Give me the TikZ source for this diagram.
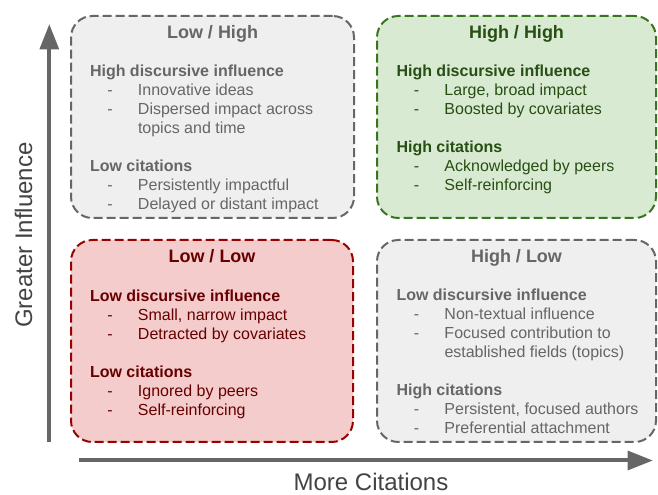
\documentclass[tikz,border=0pt]{standalone}
\usepackage{fontspec}
\setmainfont{Liberation Sans}
\usetikzlibrary{arrows.meta,calc}

\definecolor{grayfill}{HTML}{EFEFEF}
\definecolor{grayline}{HTML}{666666}
\definecolor{graytext}{HTML}{666666}
\definecolor{greenfill}{HTML}{D9EAD3}
\definecolor{greenline}{HTML}{38761D}
\definecolor{greentext}{HTML}{274E13}
\definecolor{redfill}{HTML}{F4CCCC}
\definecolor{redline}{HTML}{990000}
\definecolor{redtext}{HTML}{660000}
\definecolor{axistext}{HTML}{434343}

\newcommand{\itm}[1]{\makebox[36pt][l]{\hspace{13pt}-}#1}
\newcommand{\contline}[1]{\hspace*{36pt}#1}

\begin{document}
\begin{tikzpicture}[x=0.75pt,y=-0.75pt]
		\tikzstyle{every node}+=[inner sep=0pt,outer sep=0pt]
		\tikzstyle{quad}=[rectangle,rounded corners=16pt,line width=1.5pt,dash pattern=on 6.75pt off 3pt,minimum height=151.5pt]
		\tikzstyle{title}=[font=\fontsize{13.5}{16}\selectfont\bfseries,anchor=base]
		\tikzstyle{body}=[font=\fontsize{12}{14.2}\selectfont,anchor=base west]
		\tikzstyle{axis}=[draw=grayline,line width=3pt,-{Triangle[width=14pt,length=19pt]}]
		\tikzstyle{axislabel}=[text=axistext,font=\fontsize{18}{21}\selectfont,anchor=base]
		\useasboundingbox (0,0) rectangle (658,495);
		% quadrants
		\node[quad,draw=grayline,fill=grayfill,minimum width=212.25pt] (lh) at (212.5,117) {};
		\node[quad,draw=greenline,fill=greenfill,minimum width=209.25pt] (hh) at (516.5,117) {};
		\node[quad,draw=redline,fill=redfill,minimum width=211.5pt] (ll) at (212,341) {};
		\node[quad,draw=grayline,fill=grayfill,minimum width=209.25pt] (hl) at (516.5,341) {};
		% titles
		\node[title,text=graytext] (lh-title) at ($(lh.north)+(0,23)$) {Low / High};
		\node[title,text=greentext] (hh-title) at ($(hh.north)+(0,23)$) {High / High};
		\node[title,text=redtext] (ll-title) at ($(ll.north)+(0,22.5)$) {Low / Low};
		\node[title,text=graytext] (hl-title) at ($(hl.north)+(0,22.5)$) {High / Low};
		% contents
		\node[body,text=graytext] (lh-body) at ($(lh.north west)+(19,60.7)$) {\begin{tabular}[t]{@{}l@{}}
			\textbf{High discursive influence}\\
			\itm{Innovative ideas}\\
			\itm{Dispersed impact across}\\
			\contline{topics and time}\\[14.2pt]
			\textbf{Low citations}\\
			\itm{Persistently impactful}\\
			\itm{Delayed or distant impact}
		\end{tabular}};
		\node[body,text=greentext] (hh-body) at ($(hh.north west)+(19.5,60.7)$) {\begin{tabular}[t]{@{}l@{}}
			\textbf{High discursive influence}\\
			\itm{Large, broad impact}\\
			\itm{Boosted by covariates}\\[14.2pt]
			\textbf{High citations}\\
			\itm{Acknowledged by peers}\\
			\itm{Self-reinforcing}
		\end{tabular}};
		\node[body,text=redtext] (ll-body) at ($(ll.north west)+(19,61.5)$) {\begin{tabular}[t]{@{}l@{}}
			\textbf{Low discursive influence}\\
			\itm{Small, narrow impact}\\
			\itm{Detracted by covariates}\\[14.2pt]
			\textbf{Low citations}\\
			\itm{Ignored by peers}\\
			\itm{Self-reinforcing}
		\end{tabular}};
		\node[body,text=graytext] (hl-body) at ($(hl.north west)+(19.5,60.7)$) {\begin{tabular}[t]{@{}l@{}}
			\textbf{Low discursive influence}\\
			\itm{Non-textual influence}\\
			\itm{Focused contribution to}\\
			\contline{established fields (topics)}\\[14.2pt]
			\textbf{High citations}\\
			\itm{Persistent, focused authors}\\
			\itm{Preferential attachment}
		\end{tabular}};
		% axes
		\coordinate (ybase) at (49.3,442);
		\coordinate (ytip) at (49.3,24);
		\coordinate (xbase) at (79,460.5);
		\coordinate (xtip) at (653,460.5);
		\draw[axis] (ybase) -- (ytip);
		\draw[axis] (xbase) -- (xtip);
		\node[axislabel,rotate=90] (ylabel) at (32,235) {Greater Influence};
		\node[axislabel] (xlabel) at (371,491) {More Citations};
	\end{tikzpicture}
\end{document}
